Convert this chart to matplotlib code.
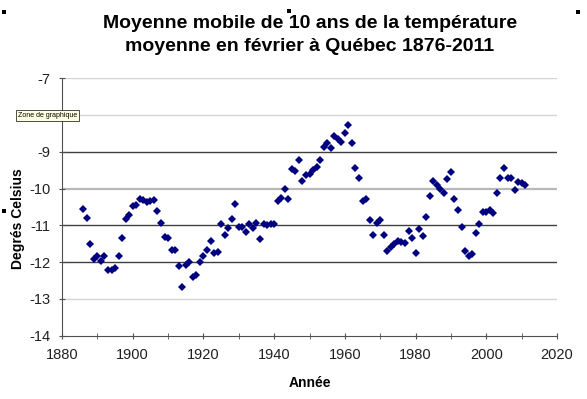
import matplotlib
matplotlib.use("Agg")
import matplotlib.pyplot as plt
from matplotlib.patches import Rectangle

plt.rcParams['font.family'] = ['Liberation Sans', 'DejaVu Sans']

years = list(range(1886, 2012))
temps = [
    -10.55, -10.80, -11.50, -11.92, -11.83, -11.98, -11.83, -12.20, -12.20, -12.16,  # 1886-1895
    -11.83, -11.35, -10.82, -10.72, -10.48, -10.45, -10.27, -10.32, -10.37, -10.33,  # 1896-1905
    -10.30, -10.62, -10.93, -11.32, -11.35, -11.67, -11.68, -12.10, -12.68, -12.07,  # 1906-1915
    -12.00, -12.41, -12.34, -12.00, -11.83, -11.68, -11.43, -11.75, -11.72, -10.97,  # 1916-1925
    -11.27, -11.08, -10.82, -10.43, -11.04, -11.04, -11.19, -10.95, -11.07, -10.93,  # 1926-1935
    -11.38, -10.95, -10.99, -10.97, -10.97, -10.33, -10.26, -10.00, -10.27, -9.48,   # 1936-1945
    -9.52, -9.23, -9.80, -9.63, -9.59, -9.50, -9.40, -9.23, -8.86, -8.77,            # 1946-1955
    -8.90, -8.57, -8.65, -8.73, -8.48, -8.27, -8.77, -9.45, -9.71, -10.33,           # 1956-1965
    -10.27, -10.84, -11.27, -10.94, -10.86, -11.26, -11.69, -11.58, -11.50, -11.42,  # 1966-1975
    -11.45, -11.48, -11.16, -11.33, -11.75, -11.10, -11.28, -10.77, -10.20, -9.78,   # 1976-1985
    -9.90, -10.02, -10.12, -9.75, -9.54, -10.27, -10.57, -11.04, -11.70, -11.84,     # 1986-1995
    -11.79, -11.21, -10.95, -10.63, -10.63, -10.59, -10.66, -10.13, -9.70, -9.45,    # 1996-2005
    -9.72, -9.72, -10.04, -9.82, -9.86, -9.89,                                       # 2006-2011
]

title = "Moyenne mobile de 10 ans de la température\nmoyenne en février à Québec 1876-2011"
xlabel = "Année"
ylabel = "Degrés Celsius"
xticks = [1880, 1900, 1920, 1940, 1960, 1980, 2000, 2020]
yticks = [-14, -13, -12, -11, -10, -9, -8, -7]
# the -8 label is hidden under the "Zone de graphique" tooltip in the reference
ytick_labels = ["-14", "-13", "-12", "-11", "-10", "-9", "", "-7"]

W, H = 587, 399
fig = plt.figure(figsize=(W / 100, H / 100), dpi=100)
ax = fig.add_axes([62 / W, 1 - 335.7 / H, (557 - 62) / W, (335.7 - 78.3) / H])

ax.set_xlim(1880, 2020)
ax.set_ylim(-14, -7)

grid_style = {-13: ('#d4d4d4', 1.0), -12: ('#404040', 1.0), -11: ('#404040', 1.0),
              -10: ('#b8b8b8', 1.6), -9: ('#404040', 1.0), -8: ('#d4d4d4', 1.0),
              -7: ('#d4d4d4', 1.0)}
for yv, (c, lw) in grid_style.items():
    ax.axhline(yv, color=c, lw=lw, zorder=1)

ax.plot(years, temps, linestyle='none', marker='D', markersize=4.4,
        color='#000080', markeredgewidth=0, zorder=3)

for s in ['top', 'right']:
    ax.spines[s].set_visible(False)
ax.spines['left'].set_color('#505050')
ax.spines['bottom'].set_color('#505050')

ax.set_xticks(xticks)
ax.set_xticks(list(range(1880, 2021, 10)), minor=True)
ax.set_yticks(yticks)
ax.set_yticklabels(ytick_labels)
ax.tick_params(axis='both', which='both', direction='inout', length=5,
               color='#505050', labelsize=10.5, labelcolor='#202020')
ax.tick_params(axis='x', pad=6)
ax.tick_params(axis='y', pad=6)

ax.set_xlabel(xlabel, fontsize=10, fontweight='bold')
ax.set_ylabel(ylabel, fontsize=10, fontweight='bold')
ax.xaxis.set_label_coords(0.5, -(376 - 335.7) / 257.4)
ax.yaxis.set_label_coords((25 - 62) / 495, (335.7 - 219) / 257.4)

fig.text(310 / W, 1 - 35 / H, title, ha='center', va='center', fontsize=14,
         fontweight='bold', linespacing=1.45)

# tooltip box
fig.text(18 / W, 1 - 115.5 / H, "Zone de graphique", fontsize=5, ha='left', va='center',
         bbox=dict(boxstyle='square,pad=0.3', fc='#ffffe1', ec='#303030', lw=0.6))

# selection handles
for hx, hy in [(4, 12), (289, 11), (578, 12), (4, 211)]:
    fig.patches.append(Rectangle((hx / W - 2 / W, 1 - hy / H - 2 / H), 4 / W, 4 / H,
                                 transform=fig.transFigure, fc='black', ec='none'))

fig.savefig("out.png", dpi=100)
